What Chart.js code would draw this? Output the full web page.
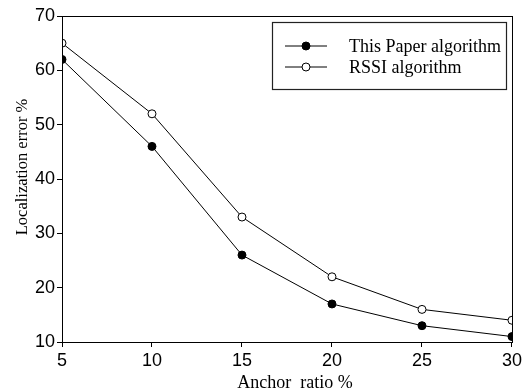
<!DOCTYPE html>
<html>
<head>
<meta charset="utf-8">
<script src="https://cdn.jsdelivr.net/npm/chart.js@4/dist/chart.umd.min.js"></script>
<style>
  html, body { margin: 0; padding: 0; background: #fff; }
  #wrap { width: 525px; height: 390px; }
</style>
</head>
<body>
<div id="wrap"><canvas id="c" width="525" height="390"></canvas></div>
<script>
const anchorRatio = [5, 10, 15, 20, 25, 30];
const thisPaper = [62, 46, 26, 17, 13, 11];
const rssi = [65, 52, 33, 22, 16, 14];
const seriesNames = ['This Paper algorithm', 'RSSI algorithm'];
const xTitle = 'Anchor  ratio %';
const yTitle = 'Localization error %';

const toPts = (vals) => anchorRatio.map((x, i) => ({ x: x, y: vals[i] }));

const serif = '"Liberation Serif", "Times New Roman", serif';
const sans = '"Liberation Sans", Arial, sans-serif';

const framePlugin = {
  id: 'framePlugin',
  afterDraw(chart) {
    const ctx = chart.ctx;
    const a = chart.chartArea;
    ctx.save();
    // frame
    ctx.strokeStyle = '#000';
    ctx.lineWidth = 1;
    ctx.strokeRect(a.left + 0.5, a.top + 0.5, a.right - a.left, a.bottom - a.top);

    // legend box
    const lx = 272, ly = 22, lw = 234, lh = 67;
    ctx.fillStyle = '#fff';
    ctx.fillRect(lx, ly, lw, lh);
    ctx.strokeStyle = '#222';
    ctx.lineWidth = 1.2;
    ctx.strokeRect(lx + 0.5, ly + 0.5, lw, lh);

    const rows = [46, 67];
    chart.data.datasets.forEach((ds, i) => {
      const y = rows[i];
      ctx.strokeStyle = '#000';
      ctx.lineWidth = 1;
      ctx.beginPath();
      ctx.moveTo(285, y);
      ctx.lineTo(327, y);
      ctx.stroke();
      ctx.beginPath();
      ctx.arc(306, y, 4, 0, Math.PI * 2);
      ctx.fillStyle = ds.pointBackgroundColor;
      ctx.fill();
      ctx.stroke();
      ctx.fillStyle = '#000';
      ctx.font = '18px ' + serif;
      ctx.textAlign = 'left';
      ctx.textBaseline = 'middle';
      ctx.fillText(ds.label, 349, y + 1);
    });

    // axis titles
    ctx.fillStyle = '#000';
    ctx.font = '18px ' + serif;
    ctx.textAlign = 'center';
    ctx.textBaseline = 'alphabetic';
    ctx.fillText(xTitle, 295, 388);

    ctx.save();
    ctx.font = '16.5px ' + serif;
    ctx.translate(27, 167);
    ctx.rotate(-Math.PI / 2);
    ctx.textAlign = 'center';
    ctx.textBaseline = 'alphabetic';
    ctx.fillText(yTitle, 0, 0);
    ctx.restore();

    ctx.restore();
  }
};

new Chart(document.getElementById('c'), {
  type: 'line',
  data: {
    datasets: [
      {
        label: seriesNames[0],
        data: toPts(thisPaper),
        borderColor: '#000',
        borderWidth: 1,
        pointRadius: 4,
        pointBackgroundColor: '#000',
        pointBorderColor: '#000',
        pointBorderWidth: 1,
        tension: 0
      },
      {
        label: seriesNames[1],
        data: toPts(rssi),
        borderColor: '#000',
        borderWidth: 1,
        pointRadius: 4,
        pointBackgroundColor: '#fff',
        pointBorderColor: '#000',
        pointBorderWidth: 1,
        tension: 0
      }
    ]
  },
  options: {
    responsive: false,
    animation: false,
    devicePixelRatio: 1,
    layout: { padding: { top: 16, right: 13, bottom: 0, left: 0 } },
    plugins: {
      legend: { display: false },
      tooltip: { enabled: false }
    },
    scales: {
      x: {
        type: 'linear',
        min: 5,
        max: 30,
        ticks: { stepSize: 5, color: '#000', font: { family: sans, size: 18 }, padding: 3, maxRotation: 0 },
        grid: { drawOnChartArea: false, drawTicks: true, tickLength: 5, tickColor: '#000' },
        border: { display: true, color: '#000', width: 1 },
        afterFit(scale) { scale.height = 48; }
      },
      y: {
        min: 10,
        max: 70,
        ticks: { stepSize: 10, color: '#000', font: { family: sans, size: 18 }, padding: 2 },
        grid: { drawOnChartArea: false, drawTicks: true, tickLength: 5, tickColor: '#000' },
        border: { display: true, color: '#000', width: 1 },
        afterFit(scale) { scale.width = 62; }
      }
    }
  },
  plugins: [framePlugin]
});
</script>
</body>
</html>
